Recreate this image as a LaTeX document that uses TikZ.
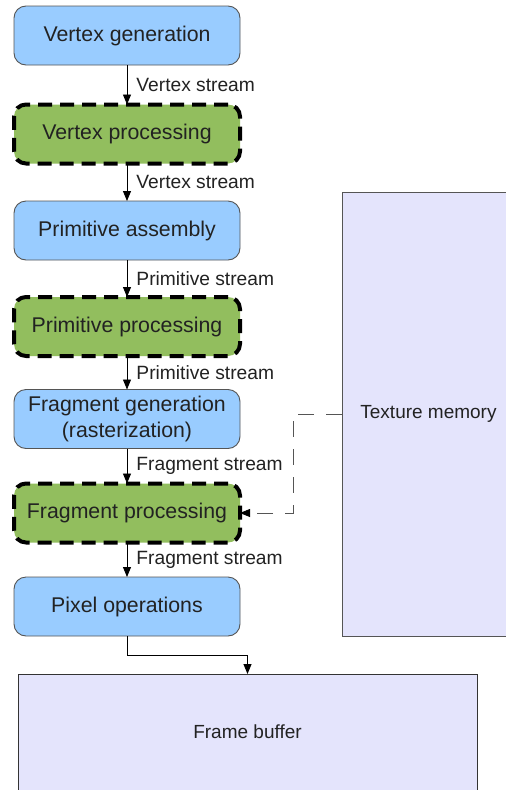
\documentclass[tikz,border=0pt]{standalone}
\usepackage{fontspec}
\setmainfont{Liberation Sans}
\usetikzlibrary{arrows.meta}
\definecolor{bluefill}{HTML}{99CCFF}
\definecolor{greenfill}{HTML}{92BE5E}
\definecolor{lavfill}{HTML}{E4E4FC}
\definecolor{txt}{HTML}{222222}
\definecolor{edgegray}{HTML}{555555}
\tikzset{
  stage/.style={draw=edgegray, line width=0.9pt, fill=bluefill, rounded corners=12pt,
    minimum width=226pt, minimum height=59pt, inner sep=0pt, outer sep=0pt,
    align=center, text=txt, font=\fontsize{21.3}{26}\selectfont},
  progstage/.style={stage, draw=black, fill=greenfill, line width=4pt,
    dash pattern=on 14pt off 8pt},
  mem/.style={draw=edgegray, line width=0.9pt, fill=lavfill, inner sep=0pt, outer sep=0pt,
    text=txt, font=\fontsize{19}{22}\selectfont},
  lbl/.style={anchor=west, inner sep=0pt, xshift=9pt, text=txt, font=\fontsize{19.2}{22}\selectfont},
  flow/.style={draw=black, line width=0.9pt, -{Triangle[length=10pt,width=8pt]}},
  texflow/.style={draw=edgegray, line width=0.8pt, dash pattern=on 16pt off 12pt, -{Triangle[length=10pt,width=8pt,color=black]}}
}
\begin{document}
\begin{tikzpicture}[x=1pt,y=1pt]
\clip (0,0) rectangle (506,-790);
\fill[white] (0,0) rectangle (506,-790);
\node[mem, minimum width=173pt, minimum height=444pt] (tex) at (428.5,-414) {Texture memory};
\node[mem, draw=black!80, minimum width=459pt, minimum height=116pt] (fb) at (247.5,-732) {Frame buffer};
\node[stage] (vg) at (127,-35.5) {Vertex generation};
\node[progstage] (vp) at (127,-134) {Vertex processing};
\node[stage] (pa) at (127,-230.5) {Primitive assembly};
\node[progstage] (pp) at (127,-326.5) {Primitive processing};
\node[stage] (fg) at (127,-419) {Fragment generation\\(rasterization)};
\node[progstage] (fp) at (127,-513) {Fragment processing};
\node[stage] (po) at (127,-606.5) {Pixel operations};
\draw[flow] (vg.south) -- node[lbl] {Vertex stream} (vp.north);
\draw[flow] (vp.south) -- node[lbl] {Vertex stream} (pa.north);
\draw[flow] (pa.south) -- node[lbl] {Primitive stream} (pp.north);
\draw[flow] (pp.south) -- node[lbl] {Primitive stream} (fg.north);
\draw[flow] (fg.south) -- node[lbl] {Fragment stream} (fp.north);
\draw[flow] (fp.south) -- node[lbl] {Fragment stream} (po.north);
\coordinate (bend) at (293,-414);
\coordinate (drop) at (127,-655);
\draw[texflow] (tex.west) -- (bend) |- (fp.east);
\draw[flow] (po.south) -- (drop) -| (fb.north);
\end{tikzpicture}
\end{document}
